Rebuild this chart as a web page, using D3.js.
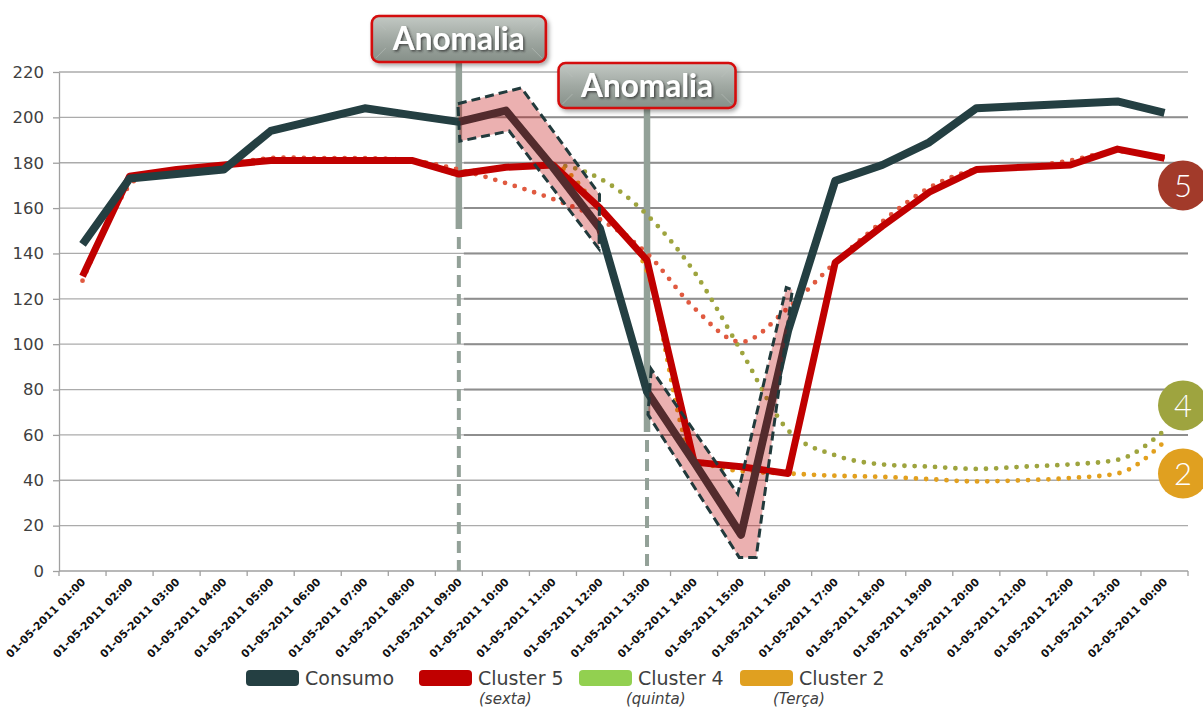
<!DOCTYPE html>
<html><head><meta charset="utf-8">
<script src="https://cdn.jsdelivr.net/npm/d3@7"></script>
<style>body{margin:0;background:#fff} svg{display:block}</style>
</head><body>
<svg id="c" width="1203" height="707"></svg>
<script>
// ---------- DATA ----------
const categories = [
  "01-05-2011 01:00","01-05-2011 02:00","01-05-2011 03:00","01-05-2011 04:00",
  "01-05-2011 05:00","01-05-2011 06:00","01-05-2011 07:00","01-05-2011 08:00",
  "01-05-2011 09:00","01-05-2011 10:00","01-05-2011 11:00","01-05-2011 12:00",
  "01-05-2011 13:00","01-05-2011 14:00","01-05-2011 15:00","01-05-2011 16:00",
  "01-05-2011 17:00","01-05-2011 18:00","01-05-2011 19:00","01-05-2011 20:00",
  "01-05-2011 21:00","01-05-2011 22:00","01-05-2011 23:00","02-05-2011 00:00"];
const consumo   = [144,173,175,177,194,199,204,201,198,203,178,151, 79, 48, 16,106,172,179,189,204,205,206,207,202];
const cluster5  = [130,174,177,179,181,181,181,181,175,178,179,160,137, 48, 46, 43,136,152,167,177,178,179,186,182];
const cluster5Profile = [128,170,176,179,182,182,182,181,177,171,164,155,140,116,101,116,136,154,169,177,178,181,185,182];
// first hour hidden behind Cluster 5 in the picture (not readable)
const cluster4  = [null,174,177,179,181,181,181,181,176,178,179,173,157,132, 97, 62, 51, 47, 46, 45, 46, 47, 49, 62];
const cluster2  = [null,174,177,179,181,181,181,181,175,178,179,159,132, 50, 44, 43, 42, 41.5,40.5,39.5,40, 41, 43, 57];
const yTicks = [0,20,40,60,80,100,120,140,160,180,200,220];
const legendNames = ["Consumo","Cluster 5","Cluster 4","Cluster 2"];
const legendNotes = ["","(sexta)","(quinta)","(Terça)"];
const anomalyLabels = ["Anomalia","Anomalia"];
const anomalyAt = ["01-05-2011 09:00","01-05-2011 13:00"];
// highlighted regions around Consumo: [category index, value]
const anomalyBand1 = [[7.98,206],[9.33,213],[10.99,166],[10.98,142],[9.07,194],[8.02,189.5]];
const anomalyBand2 = [[12.09,89],[12.02,69],[13.96,6],[14.32,6],[15.09,124],[14.96,125],[13.93,34]];
const badges = [{t:"5", v:170},{t:"4", v:73},{t:"2", v:43}];

// ---------- LAYOUT ----------
const svg = d3.select("#c");
const L=59, R=1188, T=72, B=571;
const x = d3.scaleBand().domain(categories).range([L,R]).padding(0);
const cx = c => x(c) + x.bandwidth()/2;
const xi = i => x.range()[0] + x.bandwidth()*(i+0.5);
const y = d3.scaleLinear().domain([0,220]).range([B,T]);
const FONT = "'DejaVu Sans', sans-serif";

const defs = svg.append("defs");
const g1 = defs.append("linearGradient").attr("id","boxg").attr("x1",0).attr("y1",0).attr("x2",0).attr("y2",1);
g1.append("stop").attr("offset","0").attr("stop-color","#c3c9c4");
g1.append("stop").attr("offset","0.5").attr("stop-color","#a1a9a3");
g1.append("stop").attr("offset","1").attr("stop-color","#858f88");
const f1 = defs.append("filter").attr("id","tsh").attr("x","-20%").attr("y","-30%").attr("width","140%").attr("height","160%");
f1.append("feDropShadow").attr("dx",1.5).attr("dy",1.5).attr("stdDeviation",1).attr("flood-color","#2a2a2a").attr("flood-opacity",0.75);
const f2 = defs.append("filter").attr("id","bsh").attr("x","-10%").attr("y","-20%").attr("width","130%").attr("height","150%");
f2.append("feDropShadow").attr("dx",2).attr("dy",2.5).attr("stdDeviation",2).attr("flood-color","#000").attr("flood-opacity",0.35);

// gridlines
svg.append("g").selectAll("line").data(yTicks.filter(v=>v>0)).join("line")
  .attr("x1",L).attr("x2",R).attr("y1",d=>y(d)).attr("y2",d=>y(d))
  .attr("stroke","#ababab").attr("stroke-width",1.3);
// darker overlay gridlines on the right part
const ox = cx(anomalyAt[0]) + 5;
svg.append("g").selectAll("line").data(yTicks.filter(v=>v>=60 && v<=200)).join("line")
  .attr("x1",ox).attr("x2",R).attr("y1",d=>y(d)).attr("y2",d=>y(d))
  .attr("stroke","#8e8e8e").attr("stroke-width",2);

// y axis
const ya = svg.append("g").attr("transform",`translate(${L},0)`)
  .call(d3.axisLeft(y).tickValues(yTicks).tickSize(6).tickSizeOuter(0).tickPadding(9));
ya.select(".domain").attr("stroke","#a0a0a0").attr("stroke-width",1.3);
ya.selectAll(".tick line").attr("stroke","#a0a0a0").attr("stroke-width",1.3);
ya.selectAll(".tick text").attr("font-family",FONT).attr("font-size",16.5).attr("fill","#404040");

// x axis
svg.append("line").attr("x1",L).attr("x2",R).attr("y1",B).attr("y2",B).attr("stroke","#a0a0a0").attr("stroke-width",1.3);
svg.append("g").selectAll("line").data(categories.map(c=>x(c)).concat([R])).join("line")
  .attr("x1",d=>d).attr("x2",d=>d).attr("y1",B).attr("y2",B+5).attr("stroke","#a0a0a0").attr("stroke-width",1.3);
svg.append("g").selectAll("text").data(categories).join("text")
  .attr("transform",d=>`translate(${cx(d)+1},${B+9}) rotate(-45)`)
  .attr("text-anchor","end").attr("dy","0.35em")
  .attr("font-family",FONT).attr("font-weight","bold").attr("font-size",10.8).attr("fill","#111")
  .text(d=>d);

// anomaly vertical markers (under the series)
anomalyAt.forEach((c,k)=>{
  const px = cx(c);
  const top = k===0 ? 62 : 108;
  const solidEnd = k===0 ? 229 : 432;
  svg.append("line").attr("x1",px).attr("x2",px).attr("y1",top).attr("y2",solidEnd)
    .attr("stroke","#93a198").attr("stroke-width",6.5);
  svg.append("line").attr("x1",px).attr("x2",px).attr("y1",solidEnd+8).attr("y2",B)
    .attr("stroke","#93a198").attr("stroke-width",4).attr("stroke-dasharray","12 7");
});

// series
const smoothMono = d3.line().defined(d=>d!=null).x((d,i)=>xi(i)).y(d=>y(d)).curve(d3.curveMonotoneX);
const smoothCard = d3.line().defined(d=>d!=null).x((d,i)=>xi(i)).y(d=>y(d)).curve(d3.curveCardinal.tension(0));
const straight = d3.line().x((d,i)=>xi(i)).y(d=>y(d));
function dotted(gen,data,color){
  svg.append("path").attr("d",gen(data)).attr("fill","none").attr("stroke",color)
    .attr("stroke-width",4.8).attr("stroke-linecap","round").attr("stroke-dasharray","0 10.2");
}
dotted(smoothMono,cluster4,"#9ea43e");
dotted(smoothMono,cluster2,"#e2a01e");
dotted(smoothCard,cluster5Profile,"#e05a40");
svg.append("path").attr("d",straight(cluster5)).attr("fill","none").attr("stroke","#c00000")
  .attr("stroke-width",7).attr("stroke-linejoin","round");
svg.append("path").attr("d",straight(consumo)).attr("fill","none").attr("stroke","#243f42")
  .attr("stroke-width",8).attr("stroke-linejoin","round");

// anomaly highlight regions
const bandPath = d3.line().x(d=>xi(d[0])).y(d=>y(d[1]));
[anomalyBand1, anomalyBand2].forEach(b=>{
  svg.append("path").attr("d",bandPath(b)+"Z")
    .attr("fill","rgba(192,0,0,0.31)").attr("stroke","#213a3c").attr("stroke-width",3)
    .attr("stroke-dasharray","9 5").attr("stroke-linejoin","miter");
});

// anomaly label boxes
anomalyAt.forEach((c,k)=>{
  const px = cx(c);
  const bw = k===0 ? 174 : 177, bh = k===0 ? 46 : 45;
  const top = k===0 ? 16 : 63;
  const g = svg.append("g");
  g.append("rect").attr("x",px-bw/2).attr("y",top).attr("width",bw).attr("height",bh)
    .attr("rx",7).attr("fill","url(#boxg)").attr("stroke","#d40f0f").attr("stroke-width",2.6)
    .attr("filter","url(#bsh)");
  g.append("path").attr("d",`M${px-bw/2+4},${top+4} L${px-bw/2+14},${top+14} M${px+bw/2-4},${top+4} L${px+bw/2-14},${top+14} M${px-bw/2+4},${top+bh-4} L${px-bw/2+14},${top+bh-14} M${px+bw/2-4},${top+bh-4} L${px+bw/2-14},${top+bh-14}`)
    .attr("stroke","#b9c0bb").attr("stroke-width",1).attr("opacity",0.6);
  const t = g.append("text").attr("x",px).attr("y",top+bh/2).attr("dy","0.36em")
    .attr("text-anchor","middle").attr("font-family","Lato, 'DejaVu Sans', sans-serif")
    .attr("font-weight","bold").attr("font-size",28).attr("fill","#ffffff")
    .attr("filter","url(#tsh)").text(anomalyLabels[k]);
  const w = t.node().getComputedTextLength();
  t.attr("font-size", 28*132/w);
});

// badges
const colorsBadge = ["#a23a2a","#9ea43f","#e0a020"];
badges.forEach((b,k)=>{
  svg.append("circle").attr("cx",R-5).attr("cy",y(b.v)).attr("r",25).attr("fill",colorsBadge[k]);
  svg.append("text").attr("x",R-5).attr("y",y(b.v)).attr("dy","0.36em").attr("text-anchor","middle")
    .attr("font-family","Lato, 'DejaVu Sans', sans-serif").attr("font-size",31).attr("fill","#fff").attr("font-weight",300).text(b.t);
});

// legend
const legColors = ["#243f42","#c00000","#92d050","#e0a020"];
const legX = [246, 419, 579, 740];
const noteX = [0, 479, 626, 773];
legendNames.forEach((n,k)=>{
  svg.append("rect").attr("x",legX[k]).attr("y",670).attr("width",53).attr("height",16).attr("rx",4)
    .attr("fill",legColors[k]);
  svg.append("text").attr("x",legX[k]+59).attr("y",685).attr("font-family",FONT).attr("font-size",19)
    .attr("fill","#404040").text(n);
  if (legendNotes[k]) svg.append("text").attr("x",noteX[k]).attr("y",704).attr("font-family",FONT)
    .attr("font-style","italic").attr("font-size",15).attr("fill","#404040").text(legendNotes[k]);
});
</script>
</body></html>
